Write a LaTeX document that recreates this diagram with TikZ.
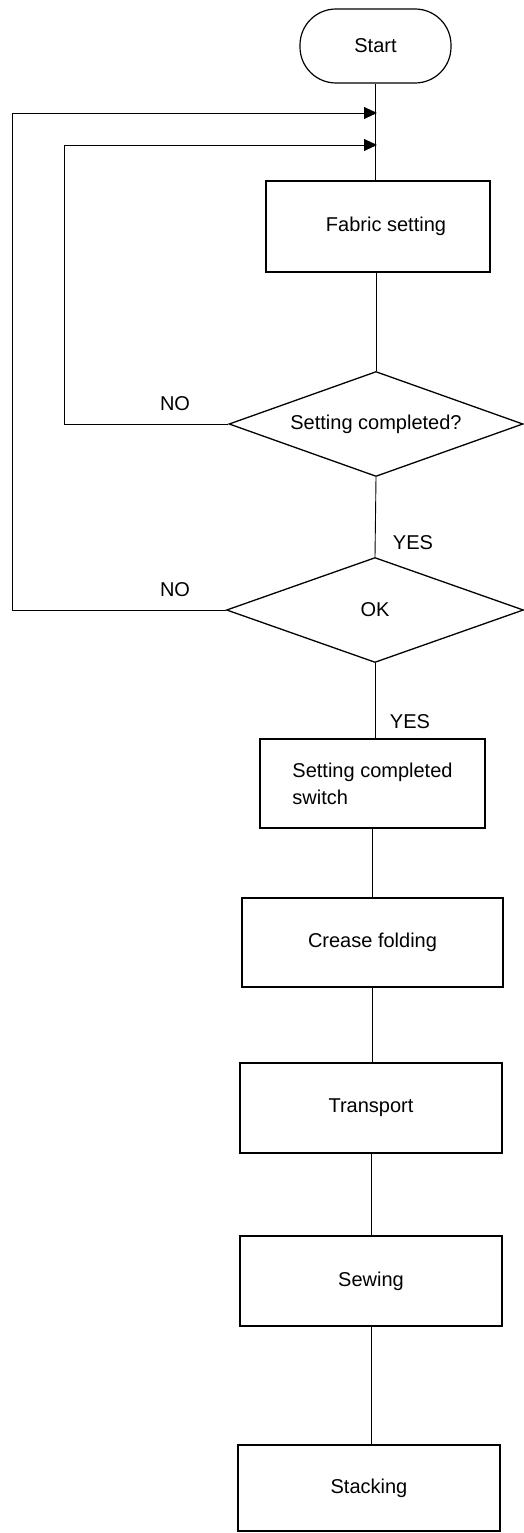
\documentclass[tikz,border=0pt]{standalone}
\usepackage{fontspec}
\setmainfont{Liberation Sans}
\usetikzlibrary{shapes.geometric,arrows.meta}
\begin{document}
\begin{tikzpicture}[x=1pt,y=-1pt,
  every node/.style={font=\fontsize{20}{27}\selectfont},
  box/.style={draw,line width=1.2pt,rectangle,inner sep=0pt},
  term/.style={draw,line width=1.2pt,rectangle,rounded corners=36pt,inner sep=0pt,minimum width=151pt,minimum height=74pt},
  dec/.style={draw,line width=1.3pt,diamond,shape aspect=2.8,inner sep=0pt},
  conn/.style={line width=0.9pt},
  arr/.style={line width=0.9pt,-{Triangle[length=13pt,width=12pt]}},
  lbl/.style={inner sep=0pt}]
\useasboundingbox (0,0) rectangle (524,1533);
\node[term] (start) at (375.5,46) {Start};
\node[box,minimum width=224pt,minimum height=91pt] (fab) at (378,226.5) {\hspace*{16pt}Fabric setting};
\node[dec,minimum width=294pt,minimum height=105pt] (d1) at (376,424) {Setting completed?};
\node[dec,minimum width=297pt,minimum height=105pt] (d2) at (375,610) {OK};
\node[box,minimum width=225pt,minimum height=89pt,align=left] (sw) at (372.5,783.5) {Setting completed\\switch};
\node[box,minimum width=261pt,minimum height=89pt] (cf) at (372.5,942.5) {Crease folding};
\node[box,minimum width=262pt,minimum height=90pt] (tr) at (371,1108) {Transport};
\node[box,minimum width=262pt,minimum height=90pt] (se) at (371,1281) {Sewing};
\node[box,minimum width=262pt,minimum height=86pt] (st) at (369,1488) {Stacking};
% labels
\node[lbl] (no1) at (175,404) {NO};
\node[lbl] (no2) at (175,590) {NO};
\node[lbl] (yes1) at (413,543) {YES};
\node[lbl] (yes2) at (410,722) {YES};
% spine coordinates
\coordinate (j1) at (377,113);
\coordinate (j2) at (377,145);
\coordinate (c1) at (12,113);
\coordinate (c2) at (64,145);
% spine
\draw[conn] (start.south) -- (start.south |- fab.north);
\draw[conn] (fab.south) -- (fab.south -| d1.north) -- (d1.north);
\draw[conn] (d1.south) -- (d2.north);
\draw[conn] (d2.south) -- (d2.south |- sw.north);
\draw[conn] (sw.south) -- (sw.south |- cf.north);
\draw[conn] (cf.south) -- (cf.south |- tr.north);
\draw[conn] (tr.south) -- (tr.south |- se.north);
\draw[conn] (se.south) -- (se.south |- st.north);
% feedback loops
\draw[arr] (d1.west) -| (c2) -- (j2);
\draw[arr] (d2.west) -| (c1) -- (j1);
\end{tikzpicture}
\end{document}
